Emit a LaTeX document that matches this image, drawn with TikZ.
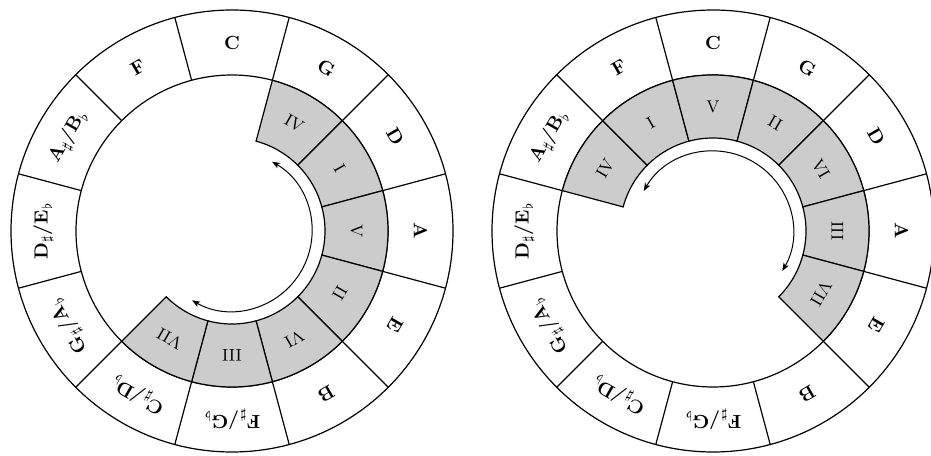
\documentclass[tikz,border=0pt]{standalone}
\usetikzlibrary{arrows.meta}
\newcommand\acc[2]{#1$_\sharp$/#2$_\flat$}
\tikzset{
  ringline/.style={draw=black, line width=0.6pt},
  notelabel/.style={font=\fontsize{9.5}{11}\selectfont\bfseries, inner sep=0pt},
  numlabel/.style={font=\fontsize{8.5}{10}\selectfont, inner sep=0pt},
  degcell/.style={fill=black!20, draw=black, line width=0.6pt},
  progarrow/.style={draw=black, line width=0.5pt, {Stealth[length=4pt,width=3pt,inset=1pt]}-{Stealth[length=4pt,width=3pt,inset=1pt]}}
}
\begin{document}
\begin{tikzpicture}
\useasboundingbox (0,0) rectangle (465.5pt,227.5pt);
\clip (0,0) rectangle (465.5pt,227.5pt);
% ---------- two circles ----------
\foreach \cx/\pre/\cells/\as/\ae in {
  116pt/L/{60/IV/a,30/I/b,0/V/c,-30/II/d,-60/VI/e,-90/III/f,-120/VII/g}/60/-120,
  356.5pt/R/{150/IV/a,120/I/b,90/V/c,60/II/d,30/VI/e,0/III/f,-30/VII/g}/150/-30}{
\begin{scope}[shift={(\cx,112pt)}]
  \coordinate (\pre o) at (0,0);
  \draw[ringline] (\pre o) circle[radius=110.5pt];
  \draw[ringline] (\pre o) circle[radius=78pt];
  \foreach \k in {0,...,11}{
    \pgfmathsetmacro\bang{15+30*\k}
    \draw[ringline] (\bang:78pt) -- (\bang:110.5pt);
  }
  \foreach \a/\t/\n in {90/C/c,60/G/g,30/D/d,0/A/a,-30/E/e,-60/B/b,
      -90/{\acc{F}{G}}/fs,-120/{\acc{C}{D}}/cs,-150/{\acc{G}{A}}/gs,
      180/{\acc{D}{E}}/ds,150/{\acc{A}{B}}/as,120/F/f}{
    \node[notelabel, rotate=\a-90] (\pre\n) at (\a:94.25pt) {\t};
  }
  \foreach \a/\t/\n in \cells{
    \pgfmathsetmacro\sa{\a+15}
    \pgfmathsetmacro\ea{\a-15}
    \draw[degcell] (\sa:46.5pt) arc[start angle=\sa, end angle=\ea, radius=46.5pt]
      -- (\ea:78pt) arc[start angle=\ea, end angle=\sa, radius=78pt] -- cycle;
    \node[numlabel, rotate=\a-90] (\pre num\n) at (\a:62.25pt) {\t};
  }
  \coordinate (\pre s) at (\as:40pt);
  \draw[progarrow] (\pre s) arc[start angle=\as, end angle=\ae, radius=40pt];
\end{scope}
}
\end{tikzpicture}
\end{document}
